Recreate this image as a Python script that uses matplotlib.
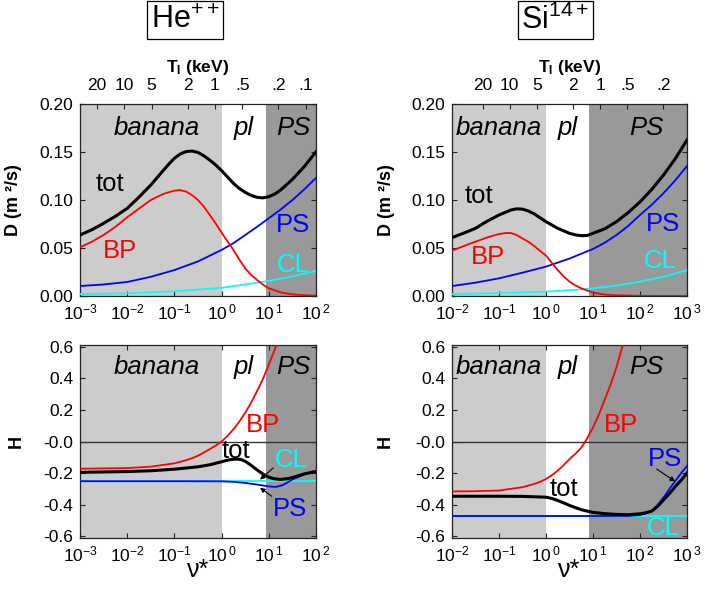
import numpy as np
import matplotlib
matplotlib.use("Agg")
import matplotlib.pyplot as plt

plt.rcParams['font.family'] = ['Liberation Sans', 'DejaVu Sans']
plt.rcParams['mathtext.fontset'] = 'custom'
plt.rcParams['mathtext.rm'] = 'Liberation Sans'
plt.rcParams['mathtext.it'] = 'Liberation Sans:italic'
plt.rcParams['mathtext.bf'] = 'Liberation Sans:bold'

# ---------------- data (x = log10 nu*) ----------------
# He++ , D (m^2/s)
he_D_tot_x = [-3, -2.75, -2.5, -2.25, -2, -1.75, -1.5, -1.25, -1.125, -1, -0.875, -0.75, -0.625, -0.5, -0.375, -0.25, -0.125, 0,
              0.125, 0.25, 0.375, 0.5, 0.625, 0.75, 0.875, 1, 1.125, 1.25, 1.5, 1.75, 2]
he_D_tot = [0.0635, 0.069, 0.0757, 0.083, 0.0913, 0.103, 0.1156, 0.130, 0.137, 0.1435, 0.148, 0.1505, 0.151, 0.1495, 0.146, 0.1415, 0.1365, 0.1306,
            0.124, 0.1174, 0.112, 0.108, 0.1048, 0.1028, 0.1022, 0.1035, 0.1062, 0.1104, 0.1215, 0.1347, 0.1503]
he_D_bp_x = [-3, -2.75, -2.5, -2.25, -2, -1.75, -1.5, -1.25, -1.125, -1, -0.875, -0.75, -0.625, -0.5, -0.375, -0.25, -0.125, 0,
             0.125, 0.25, 0.375, 0.5, 0.625, 0.75, 0.875, 1, 1.25, 1.5, 1.75, 2]
he_D_bp = [0.0507, 0.0565, 0.0635, 0.072, 0.082, 0.091, 0.100, 0.106, 0.108, 0.1097, 0.1103, 0.1087, 0.105, 0.100, 0.093, 0.0844, 0.0755, 0.066,
           0.057, 0.048, 0.038, 0.0288, 0.022, 0.0167, 0.0118, 0.008, 0.0038, 0.0017, 0.0008, 0.0003]
he_D_ps_x = [-3, -2.5, -2, -1.5, -1, -0.5, -0.25, 0, 0.25, 0.5, 0.75, 1, 1.25, 1.5, 1.75, 2]
he_D_ps = [0.0104, 0.012, 0.0146, 0.020, 0.027, 0.036, 0.042, 0.048, 0.055, 0.0635, 0.072, 0.081, 0.090, 0.100, 0.111, 0.123]
he_D_cl_x = [-3, -2, -1, -0.5, 0, 0.5, 1, 1.5, 2]
he_D_cl = [0.002, 0.0028, 0.0049, 0.0066, 0.0085, 0.012, 0.0158, 0.0205, 0.026]

# Si14+ , D (m^2/s)
si_D_tot_x = [-2, -1.75, -1.5, -1.25, -1, -0.75, -0.625, -0.5, -0.375, -0.25, 0, 0.25, 0.5, 0.625, 0.75, 0.875, 1, 1.25, 1.5, 1.75, 2, 2.25, 2.5, 2.75, 3]
si_D_tot = [0.0608, 0.0655, 0.0705, 0.078, 0.0844, 0.0895, 0.0908, 0.0905, 0.0885, 0.0855, 0.0774, 0.0705, 0.0653, 0.0637, 0.0628, 0.063, 0.0653, 0.070, 0.0774, 0.087, 0.098, 0.111, 0.126, 0.143, 0.1625]
si_D_bp_x = [-2, -1.75, -1.5, -1.25, -1, -0.875, -0.75, -0.625, -0.5, -0.375, -0.25, -0.125, 0, 0.125, 0.25, 0.375, 0.5, 0.625, 0.75, 1, 1.25, 1.5, 2, 2.5, 3]
si_D_bp = [0.0472, 0.052, 0.0566, 0.061, 0.0646, 0.0655, 0.0656, 0.0635, 0.060, 0.0565, 0.052, 0.047, 0.042, 0.0345, 0.027, 0.0205, 0.015, 0.011, 0.008, 0.0035, 0.0015, 0.0007, 0.0002, 0.0, 0.0]
si_D_ps_x = [-2, -1.5, -1, -0.5, 0, 0.5, 1, 1.25, 1.5, 1.75, 2, 2.25, 2.5, 2.75, 3]
si_D_ps = [0.0104, 0.0139, 0.0184, 0.0243, 0.0306, 0.039, 0.049, 0.0555, 0.0635, 0.073, 0.0844, 0.095, 0.107, 0.1205, 0.1354]
si_D_cl_x = [-2, -1, 0, 0.5, 1, 1.5, 2, 2.5, 3]
si_D_cl = [0.002, 0.003, 0.0045, 0.006, 0.008, 0.0108, 0.015, 0.020, 0.027]

# He++ , H
he_H_tot_x = [-3, -2, -1.5, -1, -0.5, -0.25, 0, 0.1, 0.2, 0.3, 0.4, 0.5, 0.6, 0.7, 0.8, 0.9, 1.0, 1.1, 1.25, 1.4, 1.5, 1.75, 2]
he_H_tot = [-0.195, -0.19, -0.185, -0.175, -0.16, -0.147, -0.128, -0.12, -0.114, -0.111, -0.113, -0.125, -0.145, -0.168, -0.19, -0.21, -0.225, -0.235, -0.24, -0.235, -0.228, -0.205, -0.189]
he_H_bp_x = [-3, -2.5, -2, -1.5, -1, -0.75, -0.625, -0.5, -0.375, -0.25, -0.125, 0, 0.125, 0.25, 0.375, 0.5, 0.625, 0.75, 0.875, 1, 1.125, 1.25]
he_H_bp = [-0.172, -0.170, -0.168, -0.159, -0.138, -0.118, -0.105, -0.09, -0.07, -0.048, -0.026, 0.0, 0.035, 0.077, 0.125, 0.182, 0.245, 0.318, 0.395, 0.486, 0.58, 0.68]
he_H_ps_x = [-3, -1, 0, 0.25, 0.5, 0.75, 1.0, 1.15, 1.3, 1.4, 1.5, 1.75, 2]
he_H_ps = [-0.251, -0.251, -0.252, -0.255, -0.262, -0.272, -0.284, -0.287, -0.275, -0.258, -0.24, -0.208, -0.189]
he_H_cl_x = [-3, -1, 0, 1, 2]
he_H_cl = [-0.251, -0.251, -0.251, -0.251, -0.251]

# Si14+ , H
si_H_tot_x = [-2, -1, -0.5, 0, 0.125, 0.25, 0.375, 0.5, 0.625, 0.75, 0.875, 1, 1.25, 1.5, 1.75, 2, 2.125, 2.25, 2.375, 2.5, 2.625, 2.75, 2.875, 3]
si_H_tot = [-0.346, -0.346, -0.347, -0.352, -0.36, -0.373, -0.388, -0.404, -0.418, -0.431, -0.44, -0.448, -0.456, -0.461, -0.463, -0.457, -0.45, -0.44, -0.41, -0.37, -0.33, -0.285, -0.245, -0.2]
si_H_bp_x = [-2, -1.5, -1, -0.5, -0.25, -0.125, 0, 0.125, 0.25, 0.375, 0.5, 0.625, 0.75, 0.875, 1, 1.125, 1.25, 1.375, 1.5, 1.625, 1.75]
si_H_bp = [-0.316, -0.314, -0.31, -0.289, -0.268, -0.255, -0.237, -0.213, -0.184, -0.15, -0.111, -0.078, -0.04, 0.02, 0.088, 0.17, 0.265, 0.36, 0.47, 0.60, 0.75]
si_H_ps_x = [-2, 1, 1.75, 2, 2.125, 2.25, 2.375, 2.5, 2.625, 2.75, 2.875, 3]
si_H_ps = [-0.471, -0.471, -0.47, -0.465, -0.455, -0.44, -0.40, -0.355, -0.30, -0.25, -0.20, -0.155]
si_H_cl_x = [-2, 0, 1, 2, 3]
si_H_cl = [-0.471, -0.471, -0.471, -0.471, -0.471]

# regimes (nu* boundaries) and axis ranges
he_xlim = (1e-3, 1e2)
si_xlim = (1e-2, 1e3)
he_banana_end, he_ps_start = 1.0, 8.7
si_banana_end, si_ps_start = 0.98, 8.3

# top axis: ion temperature (keV), nu* = C * T^-1.92
he_T_ticks = [20, 10, 5, 2, 1, .5, .2, .1]
he_T_labels = ['20', '10', '5', '2', '1', '.5', '.2', '.1']
si_T_ticks = [20, 10, 5, 2, 1, .5, .2]
si_T_labels = ['20', '10', '5', '2', '1', '.5', '.2']
he_logC, si_logC, T_exp = -0.14, 1.15, 1.92

D_ticks = [0.0, 0.05, 0.10, 0.15, 0.20]
D_labels = ['0.00', '0.05', '0.10', '0.15', '0.20']
H_ticks = [-0.6, -0.4, -0.2, 0.0, 0.2, 0.4, 0.6]
H_labels = ['-0.6', '-0.4', '-0.2', '-0.0', '0.2', '0.4', '0.6']

LIGHT, DARK = '#cccccc', '#999999'
RED, BLUE, CYAN = '#ff0000', '#0000ff', '#00ffff'

def nu(lx):
    return 10.0 ** np.asarray(lx, dtype=float)

fig = plt.figure(figsize=(7.05, 5.99), dpi=100)
W, Hh = 705, 599
def add_ax(x0, y0, x1, y1):
    return fig.add_axes([x0 / W, 1 - y1 / Hh, (x1 - x0) / W, (y1 - y0) / Hh])

ax_hd = add_ax(80, 104, 316, 296)
ax_sd = add_ax(452, 104, 687, 296)
ax_hh = add_ax(80, 345, 316, 538)
ax_sh = add_ax(452, 345, 687, 538)

def style(ax, xlim, ticks, labels, banana_end, ps_start, top_ticks=True):
    ax.set_xscale('log')
    ax.set_xlim(*xlim)
    ax.axvspan(xlim[0], banana_end, color=LIGHT, lw=0, zorder=0)
    ax.axvspan(ps_start, xlim[1], color=DARK, lw=0, zorder=0)
    lo, hi = int(round(np.log10(xlim[0]))), int(round(np.log10(xlim[1])))
    dec = list(range(lo, hi + 1))
    ax.set_xticks([10.0 ** e for e in dec])
    ax.set_xticklabels([r'$\mathregular{10^{%d}}$' % e if e < 0 else r'$\mathregular{10^{\,%d}}$' % e for e in dec])
    ax.xaxis.set_minor_locator(matplotlib.ticker.NullLocator())
    ax.set_yticks(ticks)
    ax.set_yticklabels(labels)
    ax.tick_params(axis='both', which='major', direction='in', length=3.5, width=0.8,
                   labelsize=12.5, top=top_ticks, right=True, color='#222222')
    ax.tick_params(axis='x', pad=5)
    ax.tick_params(axis='y', pad=5)
    for s in ax.spines.values():
        s.set_linewidth(0.9)
        s.set_color('#222222')

def lines(ax, d):
    (clx, cl), (psx, ps), (bpx, bp), (tx, t) = d
    ax.plot(nu(clx), cl, color=CYAN, lw=1.3, zorder=3)
    ax.plot(nu(psx), ps, color=BLUE, lw=1.3, zorder=4)
    ax.plot(nu(bpx), bp, color=RED, lw=1.3, zorder=4)
    ax.plot(nu(tx), t, color='black', lw=2.2, zorder=5, solid_joinstyle='round')

def top_axis(ax, xlim, T, Tl, logC):
    a2 = ax.twiny()
    a2.set_xscale('log')
    a2.set_xlim(*xlim)
    a2.set_xticks([10 ** logC * t ** (-T_exp) for t in T])
    a2.set_xticklabels(Tl)
    a2.xaxis.set_minor_locator(matplotlib.ticker.NullLocator())
    a2.tick_params(axis='x', direction='in', length=3.5, width=0.8, labelsize=12.5, pad=8, color='#222222')
    a2.set_xlabel(r'$\mathbf{T_{I}}$ (keV)', fontsize=12.5, fontweight='bold', labelpad=4)
    for s in a2.spines.values():
        s.set_visible(False)

# He D
style(ax_hd, he_xlim, D_ticks, D_labels, he_banana_end, he_ps_start, top_ticks=False)
ax_hd.set_ylim(0, 0.2)
lines(ax_hd, [(he_D_cl_x, he_D_cl), (he_D_ps_x, he_D_ps), (he_D_bp_x, he_D_bp), (he_D_tot_x, he_D_tot)])
top_axis(ax_hd, he_xlim, he_T_ticks, he_T_labels, he_logC)

# Si D
style(ax_sd, si_xlim, D_ticks, D_labels, si_banana_end, si_ps_start, top_ticks=False)
ax_sd.set_ylim(0, 0.2)
lines(ax_sd, [(si_D_cl_x, si_D_cl), (si_D_ps_x, si_D_ps), (si_D_bp_x, si_D_bp), (si_D_tot_x, si_D_tot)])
top_axis(ax_sd, si_xlim, si_T_ticks, si_T_labels, si_logC)

# He H
style(ax_hh, he_xlim, H_ticks, H_labels, he_banana_end, he_ps_start)
ax_hh.set_ylim(-0.61, 0.61)
ax_hh.axhline(0, color='#333333', lw=1.0, zorder=2)
lines(ax_hh, [(he_H_cl_x, he_H_cl), (he_H_ps_x, he_H_ps), (he_H_bp_x, he_H_bp), (he_H_tot_x, he_H_tot)])

# Si H
style(ax_sh, si_xlim, H_ticks, H_labels, si_banana_end, si_ps_start)
ax_sh.set_ylim(-0.61, 0.61)
ax_sh.axhline(0, color='#333333', lw=1.0, zorder=2)
lines(ax_sh, [(si_H_cl_x, si_H_cl), (si_H_ps_x, si_H_ps), (si_H_bp_x, si_H_bp), (si_H_tot_x, si_H_tot)])

# y labels
for ax, lab, xc in [(ax_hd, 'D (m ²/s)', -0.247), (ax_sd, 'D (m ²/s)', -0.243),
                    (ax_hh, 'H', -0.233), (ax_sh, 'H', -0.247)]:
    ax.set_ylabel(lab, fontsize=13, fontweight='bold')
    ax.yaxis.set_label_coords(xc, 0.5)
for ax in (ax_hh, ax_sh):
    ax.set_xlabel('ν*', fontsize=18)
    ax.xaxis.set_label_coords(0.5, -0.105)

FS = 18.5
def t(ax, lx, y, s, c='black', style='normal'):
    ax.text(10.0 ** lx, y, s, color=c, fontsize=FS, ha='center', va='baseline', style=style, zorder=6)

# regime labels
for ax, yb, (b, p, s) in [(ax_hd, 0.168, (-1.38, 0.468, 1.53)), (ax_sd, 0.168, (-1.015, 0.462, 2.14)),
                          (ax_hh, 0.424, (-1.38, 0.468, 1.53)), (ax_sh, 0.424, (-1.015, 0.462, 2.14))]:
    t(ax, b, yb, 'banana', style='italic')
    t(ax, p, yb, 'pl', style='italic')
    t(ax, s, yb, 'PS', style='italic')

# curve labels
t(ax_hd, -2.36, 0.109, 'tot'); t(ax_hd, -2.16, 0.040, 'BP', RED)
t(ax_hd, 1.52, 0.0663, 'PS', BLUE); t(ax_hd, 1.51, 0.0253, 'CL', CYAN)
t(ax_sd, -1.42, 0.0972, 'tot'); t(ax_sd, -1.24, 0.033, 'BP', RED)
t(ax_sd, 2.48, 0.068, 'PS', BLUE); t(ax_sd, 2.44, 0.0295, 'CL', CYAN)
t(ax_hh, 0.305, -0.105, 'tot'); t(ax_hh, 0.877, 0.057, 'BP', RED)
t(ax_hh, 1.47, -0.163, 'CL', CYAN); t(ax_hh, 1.44, -0.472, 'PS', BLUE)
t(ax_sh, 0.376, -0.342, 'tot'); t(ax_sh, 1.596, 0.057, 'BP', RED)
t(ax_sh, 2.54, -0.153, 'PS', BLUE); t(ax_sh, 2.49, -0.593, 'CL', CYAN)

arr = dict(arrowstyle='-|>', color='black', lw=0.8, mutation_scale=7, shrinkA=0, shrinkB=0)
ax_hh.annotate('', xy=(10 ** 0.814, -0.241), xytext=(10 ** 1.095, -0.167), arrowprops=arr, zorder=7)
ax_hh.annotate('', xy=(10 ** 0.814, -0.293), xytext=(10 ** 1.061, -0.346), arrowprops=arr, zorder=7)
ax_sh.annotate('', xy=(10 ** 2.745, -0.252), xytext=(10 ** 2.355, -0.174), arrowprops=arr, zorder=7)

# titles in boxes
box = dict(boxstyle='square,pad=0.12', fc='white', ec='black', lw=0.9)
fig.text(185 / W, 1 - 20 / Hh, r'He$^{++}$', fontsize=22, ha='center', va='center', bbox=box)
fig.text(555.5 / W, 1 - 20 / Hh, r'Si$^{14+}$', fontsize=22, ha='center', va='center', bbox=box)

fig.savefig('out.png', dpi=100)
